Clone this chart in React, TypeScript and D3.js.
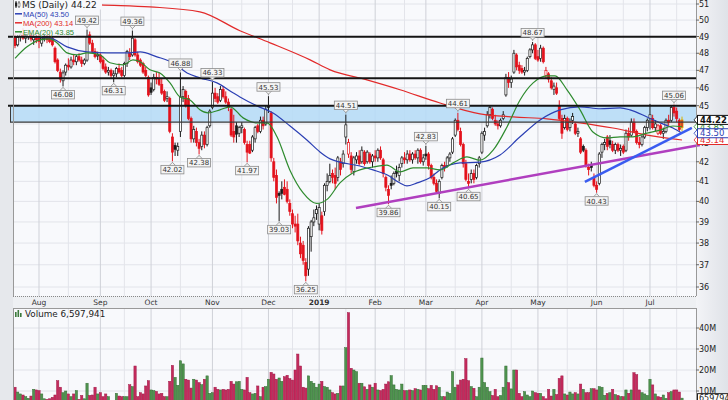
import React from 'react';
import * as d3 from 'd3';

const W = 728;
const H = 400;

const startDate = '2018-07-19';
const holidays = ['2018-09-03', '2018-11-22', '2018-12-05', '2018-12-25', '2019-01-01', '2019-01-21', '2019-02-18', '2019-04-19', '2019-05-27', '2019-07-04'];

// [open, high, low, close] per trading day
const candles: number[][] = [
  [48.95,49.2,48.3,48.45],[48.5,49.1,48.4,48.95],[49.0,49.3,48.7,49.1],[49.2,49.5,48.8,48.9],[48.9,49.2,48.6,49.05],
  [49.0,49.4,48.8,49.2],[49.2,49.4,48.7,48.85],[48.8,49.1,48.5,48.95],[48.9,49.2,48.6,48.8],[48.9,49.1,48.3,48.7],
  [48.6,49.0,48.4,48.9],[48.9,49.1,48.7,48.95],[48.9,49.1,48.6,48.8],[48.9,49.2,48.6,48.7],[48.9,49.0,48.4,48.5],
  [48.3,48.4,47.4,47.5],[47.6,47.7,46.9,47.0],[46.9,47.1,46.3,46.5],[46.4,47.0,46.08,46.85],[46.9,47.4,46.7,47.3],
  [47.3,47.7,47.0,47.2],[47.2,47.8,47.1,47.6],[47.6,47.9,47.3,47.5],[47.5,47.9,47.3,47.8],[47.8,48.0,47.5,47.6],
  [47.6,47.8,47.2,47.4],[47.4,47.7,47.3,47.6],[47.6,49.42,47.5,49.0],[49.1,49.3,48.5,48.6],[48.6,48.8,48.0,48.1],
  [48.1,48.3,47.7,47.8],[47.9,48.1,47.6,47.9],[47.9,48.0,47.4,47.5],[47.6,47.8,47.0,47.1],[47.2,47.4,46.8,46.9],
  [46.9,47.2,46.7,47.0],[47.0,47.1,46.5,46.7],[46.7,47.0,46.31,46.8],[46.8,47.2,46.6,47.1],[47.1,47.4,46.8,46.9],
  [47.0,47.2,46.6,46.7],[46.7,47.5,46.6,47.4],[47.4,48.2,47.2,48.1],[48.0,48.3,47.6,47.8],[47.9,49.36,47.8,48.9],
  [48.8,48.9,47.8,47.9],[47.9,48.1,47.4,47.5],[47.6,47.7,47.2,47.3],[47.4,47.5,46.8,46.9],[47.0,47.2,46.6,46.7],
  [46.6,46.7,45.5,45.6],[46.0,46.3,45.6,45.75],[45.9,46.8,45.8,46.6],[46.6,46.9,46.2,46.5],[46.5,46.9,46.1,46.2],
  [46.2,46.5,45.6,45.7],[45.8,45.9,45.2,45.3],[45.4,45.8,45.2,45.5],[45.4,45.5,43.5,43.6],[43.3,43.5,42.02,42.5],
  [42.85,43.0,42.3,42.65],[42.6,43.0,42.3,42.8],[43.6,46.88,43.3,45.5],[45.5,46.1,45.2,45.9],[45.8,45.9,44.9,45.0],
  [45.4,45.6,44.2,44.3],[44.3,44.4,43.0,43.2],[43.2,43.9,43.0,43.7],[43.6,43.8,42.8,43.0],[43.0,43.2,42.38,42.7],
  [42.8,43.6,42.6,43.4],[43.4,43.6,42.7,42.9],[42.9,43.9,42.8,43.8],[43.9,44.8,43.8,44.7],[44.9,46.33,44.8,45.7],
  [45.7,46.0,45.2,45.4],[45.5,45.7,45.1,45.2],[45.3,46.1,45.2,45.9],[45.9,46.1,45.4,45.5],[45.5,45.8,45.1,45.2],
  [45.2,45.4,44.7,44.9],[44.8,44.9,43.3,43.4],[43.6,44.5,43.0,43.3],[43.9,44.1,43.0,43.45],[43.5,43.9,43.3,43.8],
  [43.8,44.1,43.5,43.9],[43.7,43.8,42.9,43.0],[42.9,43.1,41.97,42.5],[42.9,43.1,42.4,42.45],[42.6,43.4,42.5,43.3],
  [43.2,43.9,43.0,43.8],[43.9,44.0,43.5,43.6],[43.6,44.4,43.5,44.2],[44.2,44.4,43.7,43.9],[44.0,45.0,43.9,44.8],
  [45.0,45.53,44.6,44.9],[44.6,44.7,42.0,42.2],[42.0,42.2,41.0,41.2],[41.3,41.6,39.9,40.2],[40.4,40.5,39.03,40.3],
  [40.6,41.0,40.1,40.4],[40.7,41.1,40.3,40.35],[40.6,41.0,39.9,40.0],[39.9,40.1,39.3,39.5],[39.4,39.6,38.7,38.9],
  [38.9,39.3,38.5,38.8],[38.9,39.4,37.9,38.1],[38.0,38.3,37.3,37.5],[37.9,38.1,37.0,37.2],[37.1,37.3,36.25,36.5],
  [36.8,38.8,36.5,38.7],[38.3,39.1,37.6,39.0],[39.0,39.6,38.8,39.2],[39.4,39.8,39.1,39.6],[38.9,39.9,38.6,39.7],
  [39.3,39.5,38.4,38.6],[39.5,40.9,39.3,40.8],[40.8,41.4,40.5,41.0],[41.0,41.9,40.9,41.3],[41.4,41.6,40.9,41.2],
  [41.3,41.7,40.6,40.9],[41.2,42.3,41.0,42.2],[42.0,42.2,41.3,41.6],[41.9,42.6,41.7,42.4],[43.3,44.51,42.9,43.95],
  [42.4,43.2,42.2,43.0],[42.3,42.5,41.4,41.6],[41.5,42.3,41.3,42.2],[42.1,42.5,41.9,42.3],[42.3,42.6,41.8,41.9],
  [42.0,42.8,41.9,42.6],[42.5,42.6,41.8,41.9],[42.0,42.6,41.9,42.5],[42.4,42.5,41.9,42.0],[42.0,42.4,41.7,42.3],
  [42.3,42.6,42.0,42.2],[42.2,42.7,42.0,42.6],[42.6,42.8,42.1,42.2],[42.1,42.2,41.2,41.4],[41.2,41.3,40.5,40.7],
  [40.6,40.8,39.86,40.3],[40.9,41.3,40.6,40.8],[40.9,41.5,40.8,41.4],[41.5,41.8,41.2,41.4],[41.3,41.9,41.0,41.7],
  [41.9,42.3,41.7,42.2],[42.2,42.5,41.9,42.1],[42.1,42.6,41.9,42.4],[42.4,42.6,42.0,42.1],[42.1,42.5,41.9,42.4],
  [42.4,42.6,42.1,42.2],[42.2,42.7,41.9,42.6],[42.6,42.7,41.9,42.0],[42.0,42.4,41.8,42.2],[42.4,42.83,42.1,42.3],
  [42.4,42.5,41.6,41.8],[41.8,41.9,41.1,41.2],[41.2,41.4,40.8,40.9],[40.9,41.1,40.4,40.5],[40.4,41.1,40.15,41.0],
  [41.2,41.9,41.1,41.8],[41.8,42.0,41.5,41.7],[41.8,42.3,41.7,42.2],[42.2,42.5,42.0,42.4],[42.5,43.3,42.4,43.2],
  [43.4,44.3,43.3,44.2],[44.2,44.61,43.6,43.7],[43.6,43.8,42.8,42.9],[42.9,43.0,41.7,41.9],[41.9,42.1,41.0,41.1],
  [41.0,41.4,40.65,40.9],[41.1,41.6,40.9,41.4],[41.4,41.6,40.9,41.1],[41.2,41.9,41.1,41.8],[41.9,42.3,41.7,42.2],
  [42.5,43.6,42.4,43.5],[43.4,43.8,43.1,43.6],[43.9,44.7,43.8,44.5],[44.5,45.0,44.3,44.9],[44.8,44.9,44.2,44.3],
  [44.2,44.5,43.9,44.0],[44.0,44.2,43.7,43.9],[43.9,44.3,43.8,44.2],[44.3,44.7,44.2,44.5],[45.6,46.8,45.5,46.6],
  [46.6,46.9,46.0,46.3],[46.3,46.7,46.0,46.5],[46.9,48.2,46.8,48.0],[47.9,48.0,47.0,47.2],[47.3,47.5,46.8,47.0],
  [47.1,47.3,46.8,46.9],[46.9,47.2,46.7,47.0],[47.0,47.8,46.9,47.7],[47.8,48.3,47.7,48.2],[48.2,48.67,48.0,48.5],
  [48.5,48.6,47.6,47.7],[47.8,48.2,47.5,47.6],[47.7,48.5,47.5,48.3],[48.3,48.4,47.4,47.5],[46.7,47.2,46.5,47.0],
  [46.8,46.9,46.3,46.5],[46.4,46.6,45.9,46.0],[45.9,46.3,45.6,46.1],[46.0,46.3,45.6,45.7],[45.0,45.3,44.2,44.3],
  [44.3,44.5,43.2,43.5],[43.8,44.5,43.7,44.3],[44.3,44.4,43.6,43.7],[43.8,44.3,43.6,44.1],[44.2,44.6,44.0,44.4],
  [44.0,44.1,43.4,43.5],[43.5,43.8,43.3,43.6],[43.2,43.3,42.4,42.5],[42.8,42.9,42.5,42.6],[42.6,42.7,41.7,41.8],
  [41.7,41.9,41.3,41.6],[41.8,42.0,41.5,41.7],[41.2,41.4,40.7,40.8],[40.8,41.0,40.43,40.6],[40.9,42.5,40.8,42.4],
  [42.5,43.0,42.2,42.9],[42.9,43.2,42.6,43.0],[43.3,43.4,42.6,42.8],[43.1,43.4,42.7,42.9],[42.9,43.1,42.5,42.6],
  [42.6,43.0,42.4,42.9],[42.9,43.0,42.5,42.6],[42.6,42.9,42.3,42.7],[42.8,42.9,42.4,42.5],[42.6,43.7,42.5,43.5],
  [43.5,43.8,43.1,43.3],[43.4,44.3,43.3,44.1],[44.1,44.3,43.5,43.6],[43.6,43.7,42.9,43.0],[43.0,43.3,42.7,42.9],
  [42.9,43.4,42.8,43.3],[43.3,43.9,43.2,43.8],[43.8,44.3,43.6,44.2],[44.3,45.1,43.7,44.5],[44.3,44.5,43.7,43.8],
  [43.8,44.2,43.6,44.0],[43.5,44.0,43.4,43.9],[43.9,44.0,43.4,43.5],[43.5,43.8,43.2,43.6],[43.6,44.3,43.5,44.2],
  [44.2,44.5,43.9,44.1],[44.2,45.0,44.1,44.9],[44.9,45.06,44.4,44.6],[44.7,44.9,44.1,44.3],[44.2,44.3,43.6,43.7],
  [43.8,44.4,43.6,44.22],
];

// volume in millions of shares
const volumes = [
  11.8,9.5,8.6,8.1,7.3,6.5,7.6,10.8,10.5,10.2,8.6,6.3,6.0,6.3,7.0,8.1,14.9,11.8,9.2,10.0,
  8.6,7.3,8.6,10.2,6.0,7.9,6.3,13.7,7.9,8.1,11.8,8.6,9.2,7.3,8.6,7.3,5.0,5.2,8.9,7.6,
  7.3,7.3,7.3,13.0,12.1,21.9,7.3,9.2,8.6,12.4,14.9,10.5,10.2,9.8,8.6,8.9,7.3,7.3,14.6,22.2,
  16.5,12.7,24.4,22.9,15.6,15.2,11.4,15.6,15.2,14.0,13.0,15.6,17.2,8.9,9.2,11.8,10.8,10.5,10.8,10.5,
  10.8,14.6,13.3,14.4,14.6,10.8,10.5,16.5,9.2,8.6,8.9,12.4,7.3,11.8,12.1,15.6,18.9,18.1,15.6,16.2,
  14.6,16.8,17.5,15.9,15.2,20.0,27.6,21.9,11.8,11.4,17.2,14.6,13.7,11.8,13.3,14.6,12.1,11.8,10.5,9.2,
  8.6,8.9,12.4,12.4,30.6,47.3,20.8,20.0,19.2,13.7,13.7,12.0,10.8,12.9,11.8,13.7,10.5,10.2,10.8,13.3,
  14.4,17.3,12.9,10.8,10.5,13.3,10.2,10.2,10.5,10.2,11.1,10.8,10.5,12.7,12.7,11.1,12.7,10.8,12.5,11.8,
  7.3,7.3,9.5,8.9,19.2,11.8,12.9,15.2,15.6,25.4,14.9,12.1,11.3,7.3,11.8,25.7,14.0,11.8,9.7,7.9,
  10.8,7.3,7.9,11.8,21.9,14.0,11.0,20.0,20.0,8.9,7.3,9.7,8.1,7.3,10.0,9.2,8.9,8.9,7.3,6.3,
  10.8,7.6,10.8,8.3,16.0,17.2,8.6,8.1,9.5,8.6,9.2,8.6,13.3,10.8,9.2,9.2,11.1,11.1,10.5,12.1,
  11.8,7.9,8.9,9.2,10.8,8.3,7.9,7.3,7.3,10.5,8.9,10.5,18.7,17.8,10.5,9.2,8.6,7.9,15.6,12.9,
  8.6,7.3,7.0,8.1,6.5,9.2,9.7,10.5,10.5,9.5,6.6,
];
const lastVolume = 6597941;

// moving averages: [trading-day index, price]
const ema20Pts: [number, number][] = [
  [0,47.7],[4.5,48.38],[9.4,48.8],[13.1,48.86],[15.7,48.62],[19.5,48.02],[23.2,47.9],[27,48.02],[31.9,47.9],
  [35.6,47.44],[40.5,47.32],[44.2,47.61],[46.9,47.5],[50.6,47.03],[54.3,46.85],[58.1,46.28],[61.8,45.49],
  [65.6,45.32],[69.3,44.77],[72.3,44.6],[76.8,44.77],[80.6,44.94],[85.5,44.33],[90.7,44.06],[94.5,44.06],
  [98.2,43.31],[103,41.58],[108,40.42],[113,39.9],[117,40.1],[121.8,40.92],[126.7,41.43],[134.2,41.73],
  [139.4,41.83],[144.3,41.48],[149.2,41.68],[154.4,41.68],[159.3,41.58],[164.2,41.94],[169.4,42.25],
  [174.3,42.08],[179.2,42.6],[184.4,43.84],[189.3,45.32],[194.2,46.28],[199.4,46.68],[202.4,46.68],
  [206.9,45.89],[211.8,44.77],[216.6,43.57],[221.9,43.25],[226.8,43.31],[231.6,43.31],[236.9,43.51],
  [241.8,43.67],[246.6,43.89],[250,43.85],
];
const ma50Pts: [number, number][] = [
  [6.4,48.98],[13.1,48.92],[19.5,48.38],[27,48.08],[34.5,48.02],[42,48.02],[46.9,48.08],[53.2,47.79],
  [59.2,47.44],[64.5,46.85],[69.3,46.57],[75.7,46.28],[81.7,45.72],[84.3,45.49],[90.7,44.99],[96.7,44.6],
  [103.1,43.89],[109.4,43.14],[114.3,42.51],[118.1,42.15],[121.8,41.98],[129.3,41.78],[134.2,41.58],
  [139.4,41.33],[144.3,40.92],[146.9,40.77],[150.7,40.92],[155.5,41.18],[159.3,41.58],[166.8,41.94],
  [174.3,41.98],[181.8,42.35],[189.3,43.31],[196.8,44.22],[204.3,44.77],[211.8,44.94],[219.3,44.83],
  [226.8,44.88],[230.5,44.77],[236.9,44.38],[241.8,44.06],[246.6,43.78],[250,43.5],
];
const ma200Pts: [number, number][] = [
  [0,51.3],[31.9,50.95],[50.6,50.82],[69.3,50.51],[84.3,49.35],[95.6,48.62],[110.6,47.61],[118.1,47.03],
  [131.9,46.45],[144.3,45.89],[159.3,45.15],[174.3,44.55],[186.7,44.38],[199.4,44.28],[211.8,44.06],
  [224.1,43.78],[236.9,43.4],[250,43.14],
];

// annotations
const resistanceLines = [48.98, 46.55];
const zoneBand = [44.1, 45.0];
const purpleTrend: [number, number][] = [[127.8, 39.68], [256.7, 42.88]];
const blueTrend: [number, number][] = [[213.6, 40.97], [253.7, 43.79]];
const highLabels = [27, 44, 62, 74, 95, 124, 154, 166, 194, 247];
const lowLabels = [18, 37, 59, 69, 87, 99, 109, 140, 159, 170, 218];

const priceTicks = [36, 37, 38, 39, 40, 41, 42, 43, 44, 45, 46, 47, 48, 49, 50, 51];
const volTicks = [10, 20, 30, 40];

const FONT = '"DejaVu Sans", Verdana, sans-serif';
const FONT2 = '"Liberation Sans", Arial, sans-serif';

function tradingDays(start: string, n: number): Date[] {
  const out: Date[] = [];
  const d = new Date(start + 'T12:00:00Z');
  while (out.length < n) {
    const dow = d.getUTCDay();
    const iso = d.toISOString().slice(0, 10);
    if (dow !== 0 && dow !== 6 && !holidays.includes(iso)) out.push(new Date(d.getTime()));
    d.setUTCDate(d.getUTCDate() + 1);
  }
  return out;
}

const PL = 13, PR = 696, PT = 0, PB = 296, VT = 308, VB = 400;

export default function App() {
  const n = candles.length;
  const dates = tradingDays(startDate, n);
  const x = d3.scaleLinear().domain([0, 250]).range([15, 682]);
  const y = d3.scaleLog().domain([36, 51]).range([287, 4]);
  const yv = d3.scaleLinear().domain([0, 40]).range([412, 328]);

  const monthStarts: number[] = [];
  const midMonths: number[] = [];
  for (let i = 1; i < n; i++) {
    if (dates[i].getUTCMonth() !== dates[i - 1].getUTCMonth()) monthStarts.push(i);
    if (dates[i].getUTCDate() >= 16 && dates[i - 1].getUTCDate() < 16) midMonths.push(i);
  }
  const fmtMonth = d3.utcFormat('%b');
  const fmtYear = d3.utcFormat('%Y');

  const line = d3.line<[number, number]>().x(d => x(d[0])).y(d => y(d[1])).curve(d3.curveMonotoneX);

  const last = candles[n - 1][3];
  const ma50Last = ma50Pts[ma50Pts.length - 1][1];
  const ma200Last = ma200Pts[ma200Pts.length - 1][1];
  const emaLast = ema20Pts[ema20Pts.length - 1][1];

  const UP = '#1a1a1a';
  const DOWN = '#e3121c';
  const BLUE = '#2b3fb4';
  const RED = '#e22a2a';
  const GREEN = '#2e8b2e';

  const bw = 2.1;

  const callout = (i: number, kind: 'h' | 'l') => {
    const v = kind === 'h' ? candles[i][1] : candles[i][2];
    const cx = x(i);
    const py = y(v);
    const bh = 8.5, bwid = 23;
    const top = kind === 'h' ? py - 5 - bh : py + 4;
    const tipY = kind === 'h' ? py - 1 : py + 1;
    const baseY = kind === 'h' ? top + bh : top;
    return (
      <g key={kind + i}>
        <line x1={cx} x2={cx} y1={tipY} y2={baseY} stroke="#8a8a8a" strokeWidth={0.8} />
        <path d={`M${cx - 3},${baseY} L${cx},${kind === 'h' ? baseY + 3 : baseY - 3} L${cx + 3},${baseY}`} fill="#f4f4f4" stroke="#8a8a8a" strokeWidth={0.8} />
        <rect x={cx - bwid / 2} y={top} width={bwid} height={bh} fill="#f4f4f4" stroke="#8a8a8a" strokeWidth={0.8} />
        <text x={cx} y={top + bh - 1.6} fontSize={7} fill="#333" textAnchor="middle" fontFamily={FONT}>{v.toFixed(2)}</text>
      </g>
    );
  };

  const rightBox = (v: number, color: string, textColor: string, bold: boolean, key: string) => {
    const cy = y(v);
    return (
      <g key={key}>
        <path d={`M${PR - 2},${cy} L${PR + 2},${cy - 4.5} L${PR + 2},${cy + 4.5} Z`} fill="#fff" stroke={color} strokeWidth={0.8} />
        <rect x={PR + 1.5} y={cy - 4.5} width={31} height={9} fill="#fff" stroke={color} strokeWidth={1} />
        <text x={PR + 4} y={cy + 3.2} fontSize={8.5} fontWeight={bold ? 'bold' : 'normal'} fill={textColor} fontFamily={FONT}>{v.toFixed(2)}</text>
      </g>
    );
  };

  return (
    <svg width={W} height={H} style={{ position: 'absolute', left: 0, top: 0, display: 'block' }} fontFamily={FONT}>
      <defs>
        <clipPath id="pclip"><rect x={PL} y={PT} width={PR - PL} height={PB - PT} /></clipPath>
        <clipPath id="vclip"><rect x={PL} y={VT} width={PR - PL} height={VB - VT} /></clipPath>
        <linearGradient id="axisbg" x1="0" x2="1" y1="0" y2="0">
          <stop offset="0" stopColor="#f3f4f7" />
          <stop offset="1" stopColor="#dfe2e8" />
        </linearGradient>
      </defs>
      <rect x={0} y={0} width={W} height={H} fill="#e6e8ec" />
      <rect x={PR} y={0} width={W - PR} height={H} fill="url(#axisbg)" />
      <rect x={PL} y={296} width={PR - PL} height={12} fill="#eef0f3" />

      {/* price panel */}
      <rect x={PL} y={PT} width={PR - PL} height={PB - PT} fill="#f8f9fc" />
      <g clipPath="url(#pclip)">
        {priceTicks.map(t => (
          <line key={'hg' + t} x1={PL} x2={PR} y1={y(t)} y2={y(t)} stroke="#e2e4ea" strokeWidth={1} />
        ))}
        {midMonths.map(i => (
          <line key={'mm' + i} x1={x(i)} x2={x(i)} y1={PT} y2={PB} stroke="#e3e4ea" strokeWidth={1} />
        ))}
        {monthStarts.map(i => (
          <line key={'ms' + i} x1={x(i)} x2={x(i)} y1={PT} y2={PB} stroke="#cfd1d8" strokeWidth={1} />
        ))}
      </g>
      {/* zone band */}
      <rect x={10} y={y(zoneBand[1])} width={PR - 10} height={y(zoneBand[0]) - y(zoneBand[1])} fill="#b7dcf6" fillOpacity={0.9} />

      <g clipPath="url(#pclip)">
        {candles.map((c, i) => {
          const [o, h, l, cl] = c;
          const prev = i > 0 ? candles[i - 1][3] : o;
          const isLast = i === n - 1;
          const col = isLast ? '#d9b400' : cl >= prev ? UP : DOWN;
          const filled = cl < o;
          const cx = x(i);
          const yt = y(Math.max(o, cl));
          const yb = y(Math.min(o, cl));
          const fill = isLast ? '#d8202a' : filled ? col : '#ffffff';
          return (
            <g key={'c' + i}>
              <line x1={cx} x2={cx} y1={y(h)} y2={y(l)} stroke={col} strokeWidth={1} />
              <rect x={cx - bw / 2} y={yt} width={bw} height={Math.max(1, yb - yt)} fill={fill} stroke={col} strokeWidth={0.7} />
            </g>
          );
        })}
        <path d={line(ma200Pts) || ''} fill="none" stroke={RED} strokeWidth={1.2} />
        <path d={line(ma50Pts) || ''} fill="none" stroke={BLUE} strokeWidth={1.2} />
        <path d={line(ema20Pts) || ''} fill="none" stroke={GREEN} strokeWidth={1.2} />
      </g>

      {/* horizontal levels */}
      {resistanceLines.map(v => (
        <line key={'rl' + v} x1={8} x2={PR} y1={y(v)} y2={y(v)} stroke="#151515" strokeWidth={2} />
      ))}
      <line x1={8} x2={PR} y1={y(zoneBand[1])} y2={y(zoneBand[1])} stroke="#151515" strokeWidth={2} />
      <line x1={10} x2={PR} y1={y(zoneBand[0])} y2={y(zoneBand[0])} stroke="#3a3a3a" strokeWidth={1.2} />
      <line x1={10.5} x2={10.5} y1={y(zoneBand[1])} y2={y(zoneBand[0])} stroke="#3a3a3a" strokeWidth={1} />

      {/* trendlines */}
      <line x1={x(purpleTrend[0][0])} y1={y(purpleTrend[0][1])} x2={x(purpleTrend[1][0])} y2={y(purpleTrend[1][1])} stroke="#b03fbf" strokeWidth={2.5} />
      <line x1={x(blueTrend[0][0])} y1={y(blueTrend[0][1])} x2={x(blueTrend[1][0])} y2={y(blueTrend[1][1])} stroke="#3a5cf0" strokeWidth={2.5} />

      {/* legend */}
      <rect x={PL + 1} y={0} width={88} height={9.5} fill="#f8f9fc" />
      <rect x={PL + 1} y={9.5} width={62} height={26} fill="#f8f9fc" fillOpacity={0.85} />
      <g>
        <line x1={16} x2={16} y1={1} y2={8} stroke="#222" strokeWidth={1} />
        <rect x={15} y={2.5} width={2} height={4} fill="#222" />
        <line x1={19} x2={19} y1={1} y2={8} stroke="#555" strokeWidth={1} />
        <rect x={18} y={3} width={2} height={3.5} fill="#fff" stroke="#555" strokeWidth={0.6} />
        <text x={22} y={8} fontSize={9} fill="#222">{`MS (Daily) ${last.toFixed(2)}`}</text>
        <line x1={15} x2={22} y1={13.8} y2={13.8} stroke={BLUE} strokeWidth={1.5} />
        <text x={23} y={16.8} fontSize={7.6} fill={BLUE} fontFamily={FONT2}>{`MA(50) ${ma50Last.toFixed(2)}`}</text>
        <line x1={15} x2={22} y1={22.8} y2={22.8} stroke={RED} strokeWidth={1.5} />
        <text x={23} y={25.8} fontSize={7.6} fill={RED} fontFamily={FONT2}>{`MA(200) ${ma200Last.toFixed(2)}`}</text>
        <line x1={15} x2={22} y1={31.8} y2={31.8} stroke={GREEN} strokeWidth={1.5} />
        <text x={23} y={34.8} fontSize={7.6} fill={GREEN} fontFamily={FONT2}>{`EMA(20) ${emaLast.toFixed(2)}`}</text>
      </g>

      {/* callouts */}
      {highLabels.map(i => callout(i, 'h'))}
      {lowLabels.map(i => callout(i, 'l'))}

      {/* price panel border */}
      <line x1={PL + 0.5} x2={PL + 0.5} y1={0} y2={PB} stroke="#999" strokeWidth={1} />
      <line x1={PR + 0.5} x2={PR + 0.5} y1={0} y2={PB} stroke="#999" strokeWidth={1} />
      <line x1={PL} x2={PR} y1={PB + 0.5} y2={PB + 0.5} stroke="#888" strokeWidth={1} strokeDasharray="1,1" />

      {/* price axis */}
      {priceTicks.map(t => (
        <g key={'pt' + t}>
          <line x1={PR} x2={PR + 3} y1={y(t)} y2={y(t)} stroke="#666" strokeWidth={1} />
          <text x={PR + 3} y={y(t) + 3} fontSize={8} fill="#222">{t}</text>
        </g>
      ))}
      {rightBox(emaLast, GREEN, GREEN, false, 'rb-ema')}
      {rightBox(ma200Last, RED, RED, false, 'rb-200')}
      {rightBox(ma50Last, BLUE, BLUE, false, 'rb-50')}
      {rightBox(last, '#111', '#111', true, 'rb-last')}

      {/* date axis */}
      {monthStarts.map(i => {
        const isJan = dates[i].getUTCMonth() === 0;
        return (
          <text key={'ml' + i} x={x(i)} y={305} fontSize={7.5} fill="#333" textAnchor="middle" fontWeight={isJan ? 'bold' : 'normal'}>
            {isJan ? fmtYear(dates[i]) : fmtMonth(dates[i])}
          </text>
        );
      })}

      {/* volume panel */}
      <rect x={PL} y={VT} width={PR - PL} height={VB - VT} fill="#f8f9fc" />
      <g clipPath="url(#vclip)">
        {volTicks.map(t => (
          <line key={'vg' + t} x1={PL} x2={PR} y1={yv(t)} y2={yv(t)} stroke="#e0e2e8" strokeWidth={1} />
        ))}
        {midMonths.map(i => (
          <line key={'vmm' + i} x1={x(i)} x2={x(i)} y1={VT} y2={VB} stroke="#e3e4ea" strokeWidth={1} />
        ))}
        {monthStarts.map(i => (
          <line key={'vms' + i} x1={x(i)} x2={x(i)} y1={VT} y2={VB} stroke="#cfd1d8" strokeWidth={1} />
        ))}
        {volumes.map((v, i) => {
          const prev = i > 0 ? candles[i - 1][3] : candles[i][0];
          const up = candles[i][3] >= prev;
          return (
            <rect key={'v' + i} x={x(i) - 1.15} y={yv(v)} width={2.3} height={yv(0) - yv(v)}
              fill={up ? '#4f944f' : '#c42a5c'} stroke={up ? '#356e35' : '#a01a48'} strokeWidth={0.5} />
          );
        })}
      </g>
      <line x1={PL} x2={PR} y1={VT + 0.5} y2={VT + 0.5} stroke="#999" strokeWidth={1} />
      <line x1={PL + 0.5} x2={PL + 0.5} y1={VT} y2={VB} stroke="#999" strokeWidth={1} />
      <line x1={PR + 0.5} x2={PR + 0.5} y1={VT} y2={VB} stroke="#999" strokeWidth={1} />
      <g>
        <rect x={15} y={312} width={1.6} height={5} fill="#3c7a3c" />
        <rect x={17.5} y={310} width={1.6} height={7} fill="#3c7a3c" />
        <rect x={20} y={313} width={1.6} height={4} fill="#3c7a3c" />
        <text x={25} y={317} fontSize={8.8} fill="#222">{`Volume ${d3.format(',')(lastVolume)}`}</text>
      </g>
      {volTicks.map(t => (
        <g key={'vt' + t}>
          <line x1={PR} x2={PR + 3} y1={yv(t)} y2={yv(t)} stroke="#666" strokeWidth={1} />
          <text x={PR + 3} y={yv(t) + 3} fontSize={8} fill="#222">{`${t}M`}</text>
        </g>
      ))}
      <rect x={PR + 1.5} y={yv(lastVolume / 1e6) - 4.5} width={31} height={9} fill="#fff" stroke="#222" strokeWidth={1} />
      <text x={PR + 3} y={yv(lastVolume / 1e6) + 3} fontSize={8} fill="#222">{String(lastVolume)}</text>
    </svg>
  );
}
